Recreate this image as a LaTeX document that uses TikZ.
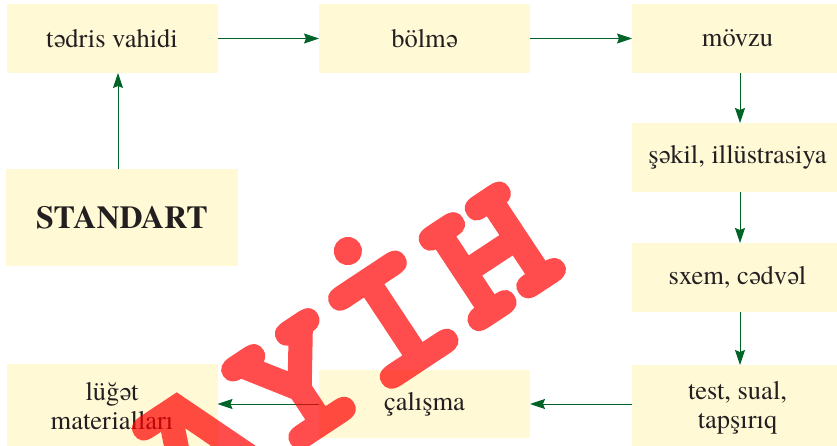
\documentclass[tikz,border=0pt]{standalone}
\usepackage{fontspec}
\setmainfont{texgyretermes}[Extension=.otf, UprightFont=*-regular, BoldFont=*-bold]
\newfontfamily\markfont{texgyrecursor}[Extension=.otf, UprightFont=*-bold, BoldFont=*-bold, BoldFeatures={FakeBold=2.5}]
\usetikzlibrary{arrows.meta}
\definecolor{boxfill}{RGB}{255,249,214}
\definecolor{arrowgreen}{RGB}{0,100,40}
\definecolor{textgray}{RGB}{35,31,32}

\begin{document}
\begin{tikzpicture}[x=1pt, y=-1pt, every node/.style={fill=boxfill, text=textgray, minimum width=211pt, minimum height=69pt, inner sep=0pt, outer sep=0pt, align=center, font=\fontsize{26.5}{29}\selectfont}, link/.style={draw=arrowgreen, line width=1pt, -{Stealth[length=15pt, width=10pt, inset=2pt]}}]
\useasboundingbox (0,0) rectangle (837,446);
\clip (0,0) rectangle (837,446);

\node (tedris) at (112,38.5) {tədris vahidi};
\node (bolme) at (424.5,38.5) {bölmə};
\node (movzu) at (737.5,38.5) {mövzu};
\node (sekil) at (737.5,157.5) {şəkil, illüstrasiya};
\node (sxem) at (737.5,277.5) {sxem, cədvəl};
\node[minimum height=85pt] (test) at (737.5,407.5) {test, sual,\\tapşırıq};
\node[minimum height=68pt] (calisma) at (424.5,404) {çalışma};
\node[minimum height=85pt] (luget) at (112,406.5) {lüğət\\materialları};
\node[minimum width=232pt, minimum height=97pt, font=\bfseries\fontsize{32}{36}\selectfont] (standart) at (122,217.5) {STANDART};

\draw[link] (tedris) -- (bolme);
\draw[link] (bolme) -- (movzu);
\draw[link] ([xshift=2.5pt]movzu.south) -- ([xshift=2.5pt]sekil.north);
\draw[link] ([xshift=2.5pt]sekil.south) -- ([xshift=2.5pt]sxem.north);
\draw[link] ([xshift=2.5pt]sxem.south) -- ([xshift=2.5pt]test.north);
\draw[link] (test.west |- calisma) -- (calisma);
\draw[link] (calisma) -- (calisma -| luget.east);
\draw[link] ([xshift=-4pt]standart.north) -- ([xshift=6pt]tedris.south);

\begin{scope}[transparency group, opacity=0.7]
\node[fill=none, text=red, minimum width=0pt, minimum height=0pt, rotate=33.5, anchor=base, font=\markfont\bfseries\fontsize{194}{194}\selectfont] (mark) at (376,399) {AYİH};
\end{scope}
\end{tikzpicture}
\end{document}
